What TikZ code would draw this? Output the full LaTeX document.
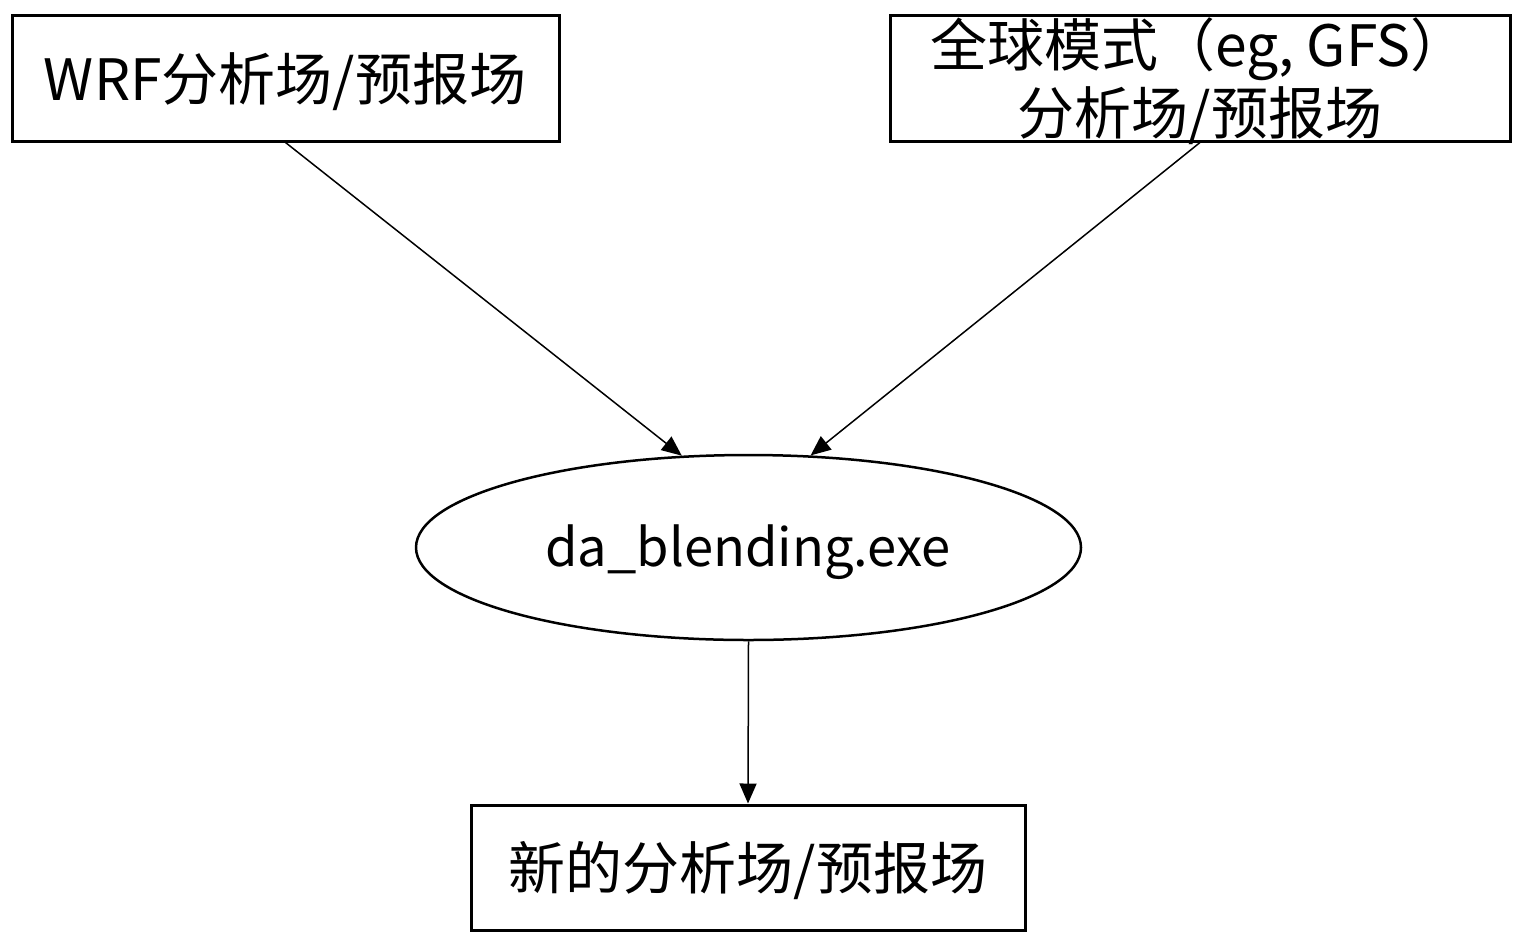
\documentclass[tikz,border=0pt]{standalone}
\usepackage{fontspec}
\setmainfont{Noto Sans CJK SC}
\usetikzlibrary{arrows.meta,shapes.geometric}
\tikzset{
  box/.style={draw, line width=3pt, inner sep=0pt},
  lbl/.style={inner sep=0pt, font=\fontsize{57}{64}\selectfont},
  arr/.style={line width=1.5pt, -{Triangle[length=20pt,width=17pt]}},
}
\begin{document}
\begin{tikzpicture}[x=1pt,y=-1pt]
\useasboundingbox (0,0) rectangle (1522,940);
% top-left box
\node[box, minimum width=547pt, minimum height=126pt] (w) at (285.5,78) {};
\node[lbl] (wt) at (285,82) {WRF分析场/预报场};
% top-right box
\node[box, minimum width=620pt, minimum height=126pt] (g) at (1200,78) {};
\node[lbl, anchor=west] (gt1) at (930,49) {全球模式（eg, GFS）};
\node[lbl] (gt2) at (1200,116) {分析场/预报场};
% ellipse
\node[draw, ellipse, line width=2.5pt, minimum width=665pt, minimum height=185pt, inner sep=0pt] (e) at (748.5,547.5) {};
\node[inner sep=0pt, font=\fontsize{52.5}{60}\selectfont] (et) at (748,552) {da\_blending.exe};
% bottom box
\node[box, minimum width=554pt, minimum height=125pt] (n) at (748,867.5) {};
\node[lbl] (nt) at (748,871) {新的分析场/预报场};
% arrows
\draw[arr] (w.south) -- (e.126.5);
\draw[arr] (g.south) -- (e.56.6);
\draw[arr] (e.south) -- (n.north);
\end{tikzpicture}
\end{document}
